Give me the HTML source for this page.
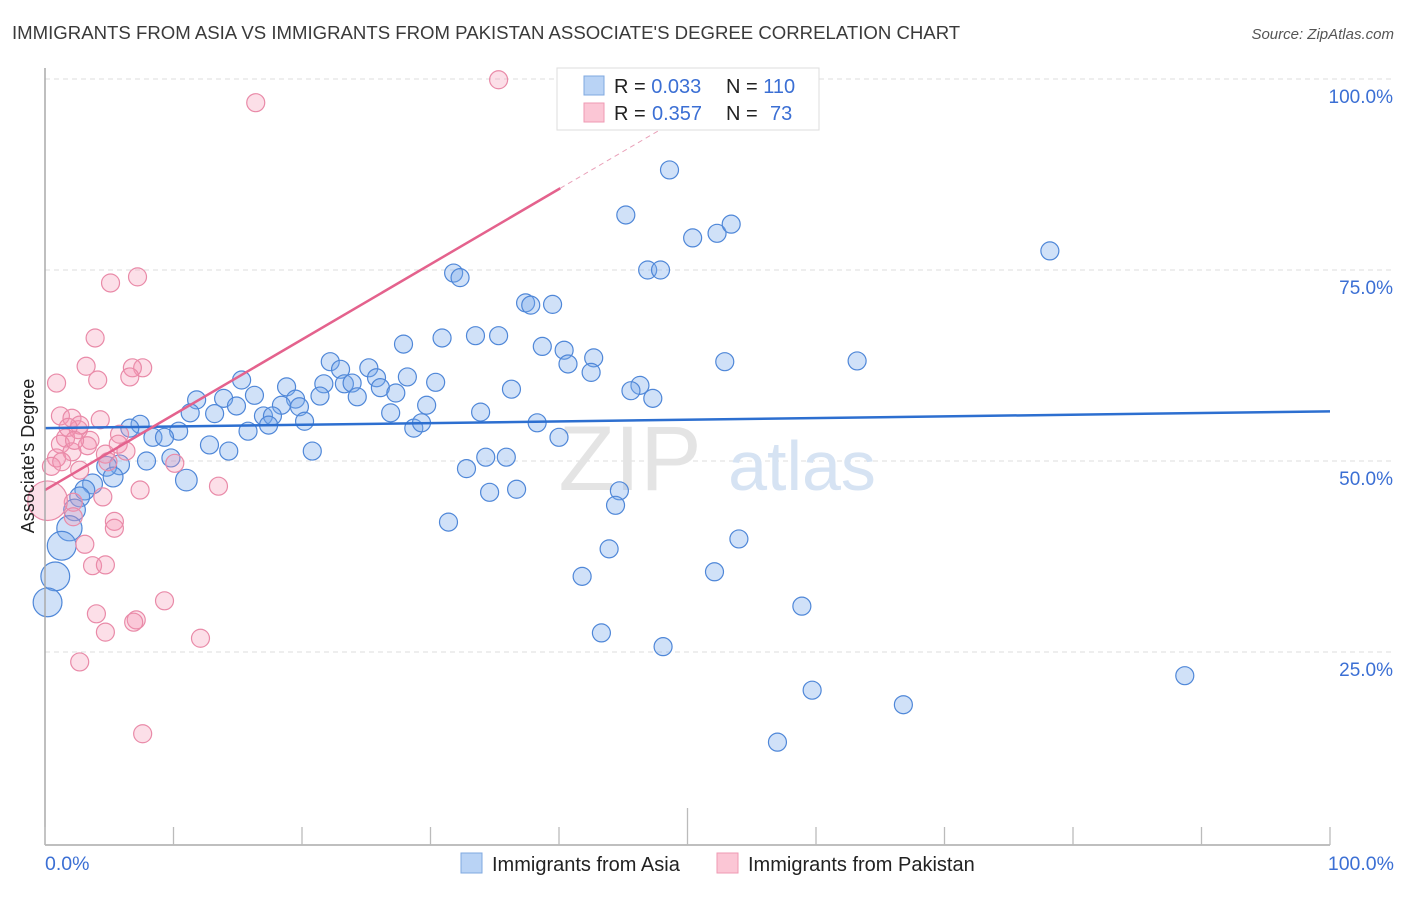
<!DOCTYPE html>
<html><head><meta charset="utf-8"><style>
body{margin:0;background:#fff;font-family:"Liberation Sans",sans-serif}
svg text{font-family:"Liberation Sans",sans-serif}
</style></head><body>
<svg width="1406" height="892" xmlns="http://www.w3.org/2000/svg">
<text x="12" y="39" font-size="18.6" fill="#3a3a3a">IMMIGRANTS FROM ASIA VS IMMIGRANTS FROM PAKISTAN ASSOCIATE'S DEGREE CORRELATION CHART</text>
<text x="1394" y="39" font-size="15" fill="#555" font-style="italic" text-anchor="end">Source: ZipAtlas.com</text>
<g id="grid"></g>
<text x="630" y="490" font-size="92" fill="#e4e4e4" font-family="Liberation Serif" text-anchor="middle">ZIP</text>
<text x="802" y="490" font-size="70" fill="#d6e3f3" text-anchor="middle">atlas</text>
<g id="pts"></g>
<g id="lines"></g>
<line x1="45" y1="68" x2="45" y2="845" stroke="#aaa" stroke-width="1.5"/>
<line x1="45" y1="845" x2="1330" y2="845" stroke="#aaa" stroke-width="1.5"/>
<g id="ticks"></g>
<text x="34" y="456" font-size="18" fill="#222" text-anchor="middle" transform="rotate(-90 34 456)">Associate's Degree</text>
<text x="45" y="870" font-size="19.5" fill="#3b6fd4">0.0%</text>
<text x="1394" y="870" font-size="19.5" fill="#3b6fd4" text-anchor="end">100.0%</text>
<g>
<rect x="557" y="68" width="262" height="62" fill="#fff" stroke="#ddd"/>
<rect x="584" y="76" width="20" height="19" fill="#b9d3f5" stroke="#7fa8e0"/>
<rect x="584" y="103" width="20" height="19" fill="#fbc6d5" stroke="#ef9ab3"/>
<text x="614" y="93" font-size="20" fill="#222">R = <tspan fill="#3b6fd4">0.033</tspan><tspan x="726">N = </tspan><tspan fill="#3b6fd4">110</tspan></text>
<text x="614" y="120" font-size="20" fill="#222">R = <tspan fill="#3b6fd4" x="652">0.357</tspan><tspan x="726">N = </tspan><tspan fill="#3b6fd4" x="770">73</tspan></text>
</g>
<g>
<rect x="461" y="853" width="21" height="20" fill="#b9d3f5" stroke="#7fa8e0"/>
<text x="492" y="871" font-size="20" fill="#222">Immigrants from Asia</text></g>
<g>
<rect x="717" y="853" width="21" height="20" fill="#fbc6d5" stroke="#ef9ab3"/>
<text x="748" y="871" font-size="20" fill="#222">Immigrants from Pakistan</text></g>
</svg>
<script>
const yTicks=[25,50,75,100];
const yTickLabels=["25.0%","50.0%","75.0%","100.0%"];
const xTicks=[0,10,20,30,40,50,60,70,80,90,100];
const asiaX=[48.6,45.2,50.4,52.3,53.4,78.2,46.9,47.9,31.8,32.3,37.4,37.8,39.5,33.5,35.3,30.9,27.9,38.7,40.4,42.7,40.7,42.5,52.9,63.2,22.2,23.0,25.2,25.8,28.2,30.4,21.7,23.3,23.9,26.1,27.3,36.3,46.3,45.6,47.3,18.8,15.3,16.3,19.5,21.4,24.3,29.7,13.9,11.8,14.9,18.4,19.8,17.0,17.7,11.3,13.2,26.9,33.9,20.2,17.4,15.8,28.7,29.3,38.3,40.0,10.4,8.4,9.3,7.4,6.6,12.8,14.3,20.8,9.8,7.9,32.8,34.3,35.9,11.0,34.6,36.7,44.7,44.4,31.4,54.0,43.9,41.8,52.1,58.9,43.3,48.1,88.7,59.7,66.8,57.0,5.8,4.8,5.3,3.7,3.1,2.7,2.3,1.9,1.3,0.8,0.2];
const asiaY=[88.1,82.2,79.2,79.8,81.0,77.5,75.0,75.0,74.6,74.0,70.7,70.4,70.5,66.4,66.4,66.1,65.3,65.0,64.5,63.5,62.7,61.6,63.0,63.1,63.0,62.0,62.2,60.9,61.0,60.3,60.1,60.1,60.2,59.6,58.9,59.4,59.9,59.2,58.2,59.7,60.6,58.6,58.1,58.5,58.4,57.3,58.2,58.0,57.2,57.3,57.1,55.9,55.9,56.3,56.2,56.3,56.4,55.2,54.7,53.9,54.3,55.0,55.0,53.1,53.9,53.1,53.1,54.8,54.3,52.1,51.3,51.3,50.4,50.0,49.0,50.5,50.5,47.5,45.9,46.3,46.1,44.2,42.0,39.8,38.5,34.9,35.5,31.0,27.5,25.7,21.9,20.0,18.1,13.2,49.5,49.3,47.9,47.0,46.2,45.3,43.6,41.2,38.9,34.9,31.5];
const asiaSize=[1,1,1,1,1,1,1,1,1,1,1,1,1,1,1,1,1,1,1,1,1,1,1,1,1,1,1,1,1,1,1,1,1,1,1,1,1,1,1,1,1,1,1,1,1,1,1,1,1,1,1,1,1,1,1,1,1,1,1,1,1,1,1,1,1,1,1,1,1,1,1,1,1,1,1,1,1,1.2,1,1,1,1,1,1,1,1,1,1,1,1,1,1,1,1,1.1,1.1,1.1,1.1,1.1,1.1,1.2,1.4,1.6,1.6,1.6];
const pakX=[35.3,16.4,7.2,5.1,3.9,3.2,7.6,6.8,6.6,4.1,0.9,1.2,2.1,4.3,2.6,1.6,1.2,3.5,3.3,5.8,5.7,2.1,0.9,0.5,1.3,2.7,4.7,6.3,4.9,10.1,7.4,13.5,4.5,2.2,0.2,2.2,5.4,5.4,3.1,3.7,4.7,9.3,4.0,7.1,6.9,4.7,12.1,2.7,7.6,2.7,1.8,2.3];
const pakY=[99.9,96.9,74.1,73.3,66.1,62.4,62.2,62.2,61.0,60.6,60.2,55.9,55.6,55.4,54.1,53.0,52.2,52.7,52.0,53.5,52.2,51.2,50.4,49.3,49.9,48.8,50.9,51.3,49.9,49.7,46.2,46.7,45.3,44.6,44.8,42.7,42.1,41.2,39.1,36.3,36.4,31.7,30.0,29.2,28.9,27.6,26.8,23.7,14.3,54.7,54.4,52.7];
const pakSize=[1,1,1,1,1,1,1,1,1,1,1,1,1,1,1,1,1,1,1,1,1,1,1,1,1,1,1,1,1,1,1,1,1,1,2.2,1,1,1,1,1,1,1,1,1,1,1,1,1,1,1,1,1];
const asiaTrend=[54.3,0.022];
const pakTrend=[46.2,0.985];
const X=v=>45+v*12.85, Y=v=>843-v*7.64;
const ns="http://www.w3.org/2000/svg";
function mk(t,a,p){const e=document.createElementNS(ns,t);for(const k in a)e.setAttribute(k,a[k]);p.appendChild(e);return e;}
const grid=document.getElementById('grid');
yTicks.forEach((v,i)=>{
 const l=mk('line',{x1:45,x2:1394,y1:Y(v),y2:Y(v),stroke:'#ddd','stroke-dasharray':'5,4'},grid);
 
 
 const t=mk('text',{x:1393,y:Y(v)+24,'font-size':19,fill:'#3b6fd4','text-anchor':'end'},grid);
 t.textContent=yTickLabels[i];
 
 
});
const tk=document.getElementById('ticks');
xTicks.forEach(v=>{
 const l=mk('line',{x1:X(v),x2:X(v),y1:(v==50?808:827),y2:845,stroke:'#bbb','stroke-width':1.3},tk);
 
 
});
const pts=document.getElementById('pts');
asiaX.forEach((x,i)=>{
 const c=mk('circle',{cx:X(x),cy:Y(asiaY[i]),r:9*asiaSize[i],fill:'rgba(120,170,235,0.35)',stroke:'#4f87d8','stroke-width':1.2},pts);
 
 
});
pakX.forEach((x,i)=>{
 const c=mk('circle',{cx:X(x),cy:Y(pakY[i]),r:9*pakSize[i],fill:'rgba(245,150,180,0.3)',stroke:'#e98aa8','stroke-width':1.2},pts);
 
 
});
const ln=document.getElementById('lines');
const a=mk('line',{x1:X(0),y1:Y(asiaTrend[0]),x2:X(100),y2:Y(asiaTrend[0]+asiaTrend[1]*100),stroke:'#2d6fd0','stroke-width':2.5},ln);


const p=mk('line',{x1:X(0),y1:Y(pakTrend[0]),x2:X(40.1),y2:Y(pakTrend[0]+pakTrend[1]*40.1),stroke:'#e4628d','stroke-width':2.5},ln);


const pd=mk('line',{x1:X(40.1),y1:Y(pakTrend[0]+pakTrend[1]*40.1),x2:X(50.5),y2:Y(pakTrend[0]+pakTrend[1]*50.5),stroke:'#e9a0b8','stroke-width':1,'stroke-dasharray':'5,4'},ln);


</script>
</body></html>
